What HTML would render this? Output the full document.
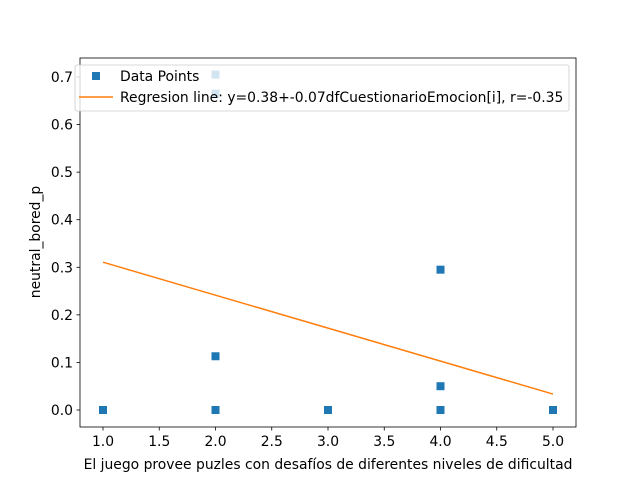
<!DOCTYPE html>
<html><head><meta charset="utf-8"><style>body{margin:0;background:#fff}svg{font-family:"DejaVu Sans","Liberation Sans",sans-serif}</style></head>
<body>
<svg id="chart" width="640" height="480">
<rect width="640" height="480" fill="#fff"/>
<g id="plot"></g>
</svg>
<script>
const xVals=[1,2,2,2,2,3,4,4,4,5];
const yVals=[0,0.113,0,0.665,0.705,0,0.295,0.05,0,0];
const lineIntercept=0.38;
const lineSlope=-0.0693;
const xTicks=[1.0,1.5,2.0,2.5,3.0,3.5,4.0,4.5,5.0];
const yTicks=[0.0,0.1,0.2,0.3,0.4,0.5,0.6,0.7];
const L=80,R=576,T=58,B=427;
const FS=13.9;
const sx=v=>103+(v-1)*112.5;
const sy=v=>410-v*475.7;
const NS='http://www.w3.org/2000/svg';
const g=document.getElementById('plot');
function mk(t,a,p){const e=document.createElementNS(NS,t);for(const k in a)e.setAttribute(k,a[k]);(p||g).appendChild(e);return e;}
xVals.forEach((x,i)=>{const r=mk('rect',{x:sx(x)-4,y:sy(yVals[i])-4,width:8,height:8,fill:'#1f77b4'});

});
const x0=Math.min(...xVals),x1=Math.max(...xVals);
const ln=mk('line',{x1:sx(x0),y1:sy(lineIntercept+lineSlope*x0),x2:sx(x1),y2:sy(lineIntercept+lineSlope*x1),stroke:'#ff7f0e','stroke-width':1.5});


const fr=mk('rect',{x:L,y:T,width:R-L,height:B-T,fill:'none',stroke:'#000','stroke-width':0.8});


xTicks.forEach(t=>{const x=sx(t);mk('line',{x1:x,y1:B,x2:x,y2:B+3.5,stroke:'#000','stroke-width':0.8});
const tx=mk('text',{x:x,y:B+19,'text-anchor':'middle','font-size':FS});tx.textContent=t.toFixed(1);

});
yTicks.forEach(t=>{const y=sy(t);mk('line',{x1:L-3.5,y1:y,x2:L,y2:y,stroke:'#000','stroke-width':0.8});
const tx=mk('text',{x:L-7,y:y+5,'text-anchor':'end','font-size':FS});tx.textContent=t.toFixed(1);

});
const xl=mk('text',{x:328,y:469,'text-anchor':'middle','font-size':FS});xl.textContent='El juego provee puzles con desafíos de diferentes niveles de dificultad';


const yl=mk('text',{x:0,y:0,'text-anchor':'middle','font-size':FS,transform:'translate(40,242) rotate(-90)'});yl.textContent='neutral_bored_p';


const lg=mk('g',{});


mk('rect',{x:75,y:65,width:494,height:46,rx:2,fill:'#fff','fill-opacity':0.8,stroke:'#ccc','stroke-width':0.8},lg);
mk('rect',{x:92,y:72,width:8,height:8,fill:'#1f77b4'},lg);
const t1=mk('text',{x:120,y:81,'font-size':FS},lg);t1.textContent='Data Points';
mk('line',{x1:79,y1:97,x2:113,y2:97,stroke:'#ff7f0e','stroke-width':1.5},lg);
const t2=mk('text',{x:120,y:102,'font-size':FS},lg);t2.textContent='Regresion line: y=0.38+-0.07dfCuestionarioEmocion[i], r=-0.35';
</script>
</body></html>
